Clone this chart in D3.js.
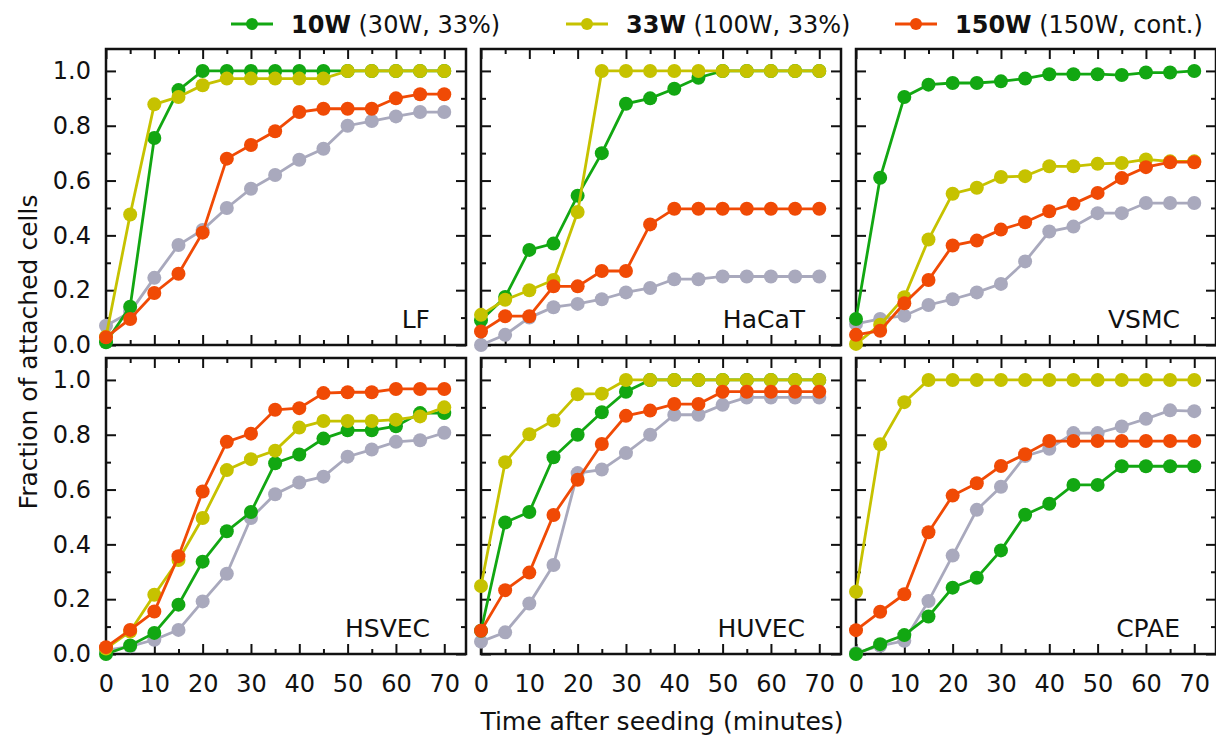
<!DOCTYPE html>
<html>
<head>
<meta charset="utf-8">
<script src="https://cdn.jsdelivr.net/npm/d3@7"></script>
<style>
  body { margin: 0; background: #fff; }
  text { font-family: "DejaVu Sans", sans-serif; fill: #111; }
</style>
</head>
<body>
<div id="chart"></div>
<script>
// minutes after seeding
var times = [0, 5, 10, 15, 20, 25, 30, 35, 40, 45, 50, 55, 60, 65, 70];
var cellLines = ['LF', 'HaCaT', 'VSMC', 'HSVEC', 'HUVEC', 'CPAE'];

// one array per cell line, same order as cellLines
var control = [
  [0.07, 0.12, 0.245, 0.365, 0.42, 0.50, 0.57, 0.62, 0.676, 0.716, 0.80, 0.817, 0.834, 0.85, 0.85],
  [0.0, 0.037, 0.10, 0.138, 0.15, 0.167, 0.192, 0.208, 0.24, 0.24, 0.25, 0.25, 0.25, 0.25, 0.25],
  [0.077, 0.095, 0.107, 0.146, 0.167, 0.192, 0.223, 0.305, 0.414, 0.432, 0.481, 0.481, 0.518, 0.518, 0.518],
  [0.013, 0.028, 0.052, 0.088, 0.192, 0.293, 0.496, 0.583, 0.626, 0.647, 0.72, 0.746, 0.774, 0.78, 0.807],
  [0.045, 0.079, 0.184, 0.325, 0.66, 0.673, 0.733, 0.80, 0.873, 0.873, 0.909, 0.936, 0.936, 0.936, 0.936],
  [0.003, 0.03, 0.048, 0.193, 0.359, 0.526, 0.61, 0.722, 0.749, 0.806, 0.806, 0.83, 0.858, 0.889, 0.886]
];
var w10 = [
  [0.01, 0.14, 0.755, 0.93, 1.0, 1.0, 1.0, 1.0, 1.0, 1.0, 1.0, 1.0, 1.0, 1.0, 1.0],
  [0.09, 0.175, 0.347, 0.37, 0.545, 0.70, 0.88, 0.90, 0.935, 0.975, 1.0, 1.0, 1.0, 1.0, 1.0],
  [0.095, 0.61, 0.905, 0.95, 0.956, 0.956, 0.962, 0.972, 0.988, 0.988, 0.988, 0.985, 0.994, 0.994, 1.0],
  [0.0, 0.031, 0.077, 0.18, 0.337, 0.448, 0.518, 0.696, 0.728, 0.786, 0.816, 0.816, 0.831, 0.879, 0.879],
  [0.085, 0.48, 0.518, 0.718, 0.80, 0.882, 0.957, 1.0, 1.0, 1.0, 1.0, 1.0, 1.0, 1.0, 1.0],
  [0.0, 0.036, 0.069, 0.137, 0.242, 0.278, 0.378, 0.508, 0.548, 0.617, 0.617, 0.685, 0.685, 0.685, 0.685]
];
var w33 = [
  [0.03, 0.476, 0.878, 0.905, 0.948, 0.972, 0.972, 0.972, 0.972, 0.972, 1.0, 1.0, 1.0, 1.0, 1.0],
  [0.11, 0.165, 0.20, 0.237, 0.485, 1.0, 1.0, 1.0, 1.0, 1.0, 1.0, 1.0, 1.0, 1.0, 1.0],
  [0.004, 0.074, 0.174, 0.385, 0.552, 0.574, 0.613, 0.616, 0.652, 0.652, 0.661, 0.664, 0.677, 0.67, 0.67],
  [0.02, 0.082, 0.216, 0.343, 0.496, 0.671, 0.711, 0.742, 0.826, 0.85, 0.85, 0.85, 0.855, 0.867, 0.90],
  [0.248, 0.70, 0.802, 0.852, 0.948, 0.95, 1.0, 1.0, 1.0, 1.0, 1.0, 1.0, 1.0, 1.0, 1.0],
  [0.227, 0.765, 0.919, 1.0, 1.0, 1.0, 1.0, 1.0, 1.0, 1.0, 1.0, 1.0, 1.0, 1.0, 1.0]
];
var w150 = [
  [0.028, 0.095, 0.19, 0.26, 0.41, 0.68, 0.73, 0.78, 0.85, 0.862, 0.862, 0.862, 0.90, 0.915, 0.915],
  [0.049, 0.105, 0.105, 0.214, 0.214, 0.27, 0.27, 0.44, 0.497, 0.497, 0.497, 0.497, 0.497, 0.497, 0.497],
  [0.037, 0.052, 0.152, 0.237, 0.363, 0.381, 0.421, 0.448, 0.488, 0.515, 0.555, 0.609, 0.649, 0.667, 0.667],
  [0.025, 0.088, 0.155, 0.357, 0.593, 0.774, 0.804, 0.891, 0.897, 0.952, 0.955, 0.955, 0.967, 0.967, 0.967],
  [0.085, 0.233, 0.297, 0.507, 0.636, 0.766, 0.869, 0.888, 0.912, 0.912, 0.957, 0.957, 0.957, 0.957, 0.957],
  [0.087, 0.154, 0.218, 0.444, 0.578, 0.623, 0.686, 0.729, 0.777, 0.777, 0.777, 0.777, 0.777, 0.777, 0.777]
];

// legend entries (grey control series has no entry)
var legendBold = ['10W', '33W', '150W'];
var legendRest = [' (30W, 33%)', ' (100W, 33%)', ' (150W, cont.)'];

var colors = {control: '#a9a9bd', w10: '#12a712', w33: '#c6c200', w150: '#f04a05'};

var width = 1216, height = 741;
var panelW = 360, panelH = 296;

var svg = d3.select('#chart').append('svg')
  .attr('width', width)
  .attr('height', height);

var x = d3.scaleLinear().domain([0, 74.5]).range([0, panelW]);
var y = d3.scaleLinear().domain([0, 1.08]).range([panelH, 0]);

var line = d3.line()
  .x(function(d, i) { return x(times[i]); })
  .y(function(d) { return y(d); });

// draw order: grey under everything, red on top
var seriesOrder = [
  {data: control, color: colors.control},
  {data: w10, color: colors.w10},
  {data: w33, color: colors.w33},
  {data: w150, color: colors.w150}
];

cellLines.forEach(function(name, p) {
  var col = p % 3, row = Math.floor(p / 3);
  var g = svg.append('g')
    .attr('transform', 'translate(' + (106 + col * 375) + ',' + (49 + row * 309) + ')');

  // ticks point inward on all four sides
  var majorX = d3.range(0, 71, 10), minorX = d3.range(5, 71, 10);
  var majorY = d3.range(0, 1.01, 0.2), minorY = [0.1, 0.3, 0.5, 0.7, 0.9];

  g.append('g').attr('class', 'ax')
    .attr('transform', 'translate(0,' + panelH + ')')
    .call(d3.axisBottom(x).tickValues(majorX).tickSize(-10).tickPadding(21)
      .tickFormat(row === 1 ? d3.format('d') : ''));
  g.append('g').attr('class', 'ax')
    .attr('transform', 'translate(0,' + panelH + ')')
    .call(d3.axisBottom(x).tickValues(minorX).tickSize(-5).tickFormat(''));
  g.append('g').attr('class', 'ax')
    .call(d3.axisTop(x).tickValues(majorX).tickSize(-10).tickFormat(''));
  g.append('g').attr('class', 'ax')
    .call(d3.axisTop(x).tickValues(minorX).tickSize(-5).tickFormat(''));

  g.append('g').attr('class', 'ax')
    .call(d3.axisLeft(y).tickValues(majorY).tickSize(-10).tickPadding(15)
      .tickFormat(col === 0 ? d3.format('.1f') : ''));
  g.append('g').attr('class', 'ax')
    .call(d3.axisLeft(y).tickValues(minorY).tickSize(-5).tickFormat(''));
  g.append('g').attr('class', 'ax')
    .attr('transform', 'translate(' + panelW + ',0)')
    .call(d3.axisRight(y).tickValues(majorY).tickSize(-10).tickFormat(''));
  g.append('g').attr('class', 'ax')
    .attr('transform', 'translate(' + panelW + ',0)')
    .call(d3.axisRight(y).tickValues(minorY).tickSize(-5).tickFormat(''));

  g.selectAll('.ax .domain').remove();
  g.selectAll('.ax line').attr('stroke', '#111').attr('stroke-width', 2);
  g.selectAll('.ax text')
    .style('font-size', '24px')
    .style('font-family', '"DejaVu Sans", sans-serif')
    .attr('fill', '#111');

  g.append('rect')
    .attr('width', panelW)
    .attr('height', panelH)
    .attr('fill', 'none')
    .attr('stroke', '#111')
    .attr('stroke-width', 2.5);

  seriesOrder.forEach(function(s) {
    var vals = s.data[p];
    g.append('path')
      .datum(vals)
      .attr('d', line)
      .attr('fill', 'none')
      .attr('stroke', s.color)
      .attr('stroke-width', 2.8);
    g.selectAll(null)
      .data(vals)
      .enter().append('circle')
      .attr('cx', function(d, i) { return x(times[i]); })
      .attr('cy', function(d) { return y(d); })
      .attr('r', 7)
      .attr('fill', s.color);
  });

  g.append('text')
    .attr('x', panelW - 36)
    .attr('y', panelH - 17)
    .attr('text-anchor', 'end')
    .style('font-size', '25px')
    .text(name);
});

// axis titles
svg.append('text')
  .attr('x', 662)
  .attr('y', 730)
  .attr('text-anchor', 'middle')
  .style('font-size', '25px')
  .text('Time after seeding (minutes)');

svg.append('text')
  .attr('transform', 'translate(37,352) rotate(-90)')
  .attr('text-anchor', 'middle')
  .style('font-size', '25px')
  .text('Fraction of attached cells');

// legend
var legendX = [231, 566, 895];
var legendColors = [colors.w10, colors.w33, colors.w150];
legendBold.forEach(function(b, i) {
  var lg = svg.append('g').attr('transform', 'translate(' + legendX[i] + ',24)');
  lg.append('line')
    .attr('x1', 0).attr('x2', 42)
    .attr('stroke', legendColors[i])
    .attr('stroke-width', 2.8);
  lg.append('circle')
    .attr('cx', 21)
    .attr('r', 6)
    .attr('fill', legendColors[i]);
  var t = lg.append('text')
    .attr('x', 60)
    .attr('dy', '0.36em')
    .style('font-size', '24px');
  t.append('tspan').style('font-weight', 'bold').text(b);
  t.append('tspan').text(legendRest[i]);
});
</script>
</body>
</html>
